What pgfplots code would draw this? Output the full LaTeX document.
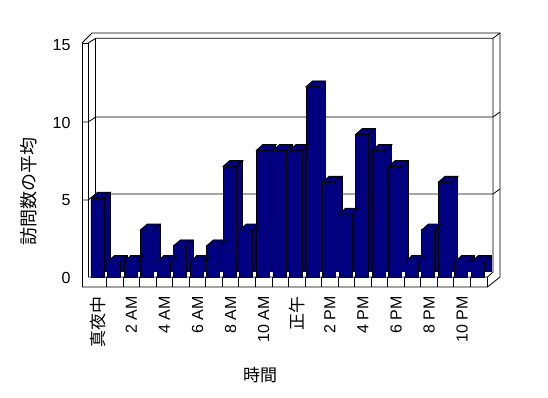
\documentclass[border=0pt]{standalone}
\usepackage{pgfplots}
\pgfplotsset{compat=1.18}
\usepackage{pgfplotstable}
\usepackage{fontspec}
\setmainfont{Liberation Sans}
\newfontfamily\cjk{Noto Sans CJK JP}
\definecolor{navy}{HTML}{000080}
\pgfdeclareplotmark{topface}{%
  \pgfpathmoveto{\pgfqpoint{-7.3pt}{0pt}}%
  \pgfpathlineto{\pgfqpoint{5.7pt}{0pt}}%
  \pgfpathlineto{\pgfqpoint{12.2pt}{5.7pt}}%
  \pgfpathlineto{\pgfqpoint{-0.8pt}{5.7pt}}%
  \pgfpathclose
  \pgfusepathqfillstroke}
\pgfplotstableread{
h v
0 5
1 1
2 1
3 3
4 1
5 2
6 1
7 2
8 7
9 3
10 8
11 8
12 8
13 12
14 6
15 4
16 9
17 8
18 7
19 1
20 3
21 6
22 1
23 1
}\visits
\begin{document}
\begin{tikzpicture}
\useasboundingbox (0,0) rectangle (548pt,398pt);
\begin{scope}[x=1pt,y=-1pt,shift={(0pt,398pt)},line width=0.8pt]
  % walls and floor
  \draw (82,287) -- (82,43) -- (88.3,43) -- (88.3,277);
  \draw (82,43) -- (92,33) -- (500,33) -- (500,277);
  \draw (88.3,43) -- (95.7,38.3) -- (493,38.3) -- (493,272);
  \draw (95.7,38.3) -- (95.7,277);
  \draw (493,38.3) -- (500,33);
  \draw (82,287) -- (487.5,287) -- (500,277);
  \draw (88.3,277) -- (487.5,277) -- (493,272);
  \draw (487.5,277) -- (487.5,287);
  \foreach \k in {1,...,23} {\draw ({90+16.54*\k},277) -- ({90+16.54*\k},287);}
  % gridlines
  \draw (82,200) -- (88.3,200) -- (95.7,194) -- (493,194) -- (500,189);
  \draw (82,122) -- (88.3,122) -- (95.7,117) -- (493,117) -- (500,112);
  % axis titles
  \node[font=\cjk\fontsize{17}{19}\selectfont] at (260,375) {時間};
  \node[font=\cjk\fontsize{18}{20}\selectfont, rotate=90] at (29,192) {訪問数の平均};
\end{scope}
\begin{axis}[
  at={(90pt,120.5pt)}, anchor=south west,
  scale only axis, width=397pt, height=238.5pt,
  xmin=-0.5, xmax=23.5, ymin=0, ymax=15,
  clip=false,
  axis line style={draw=none},
  tick style={draw=none},
  xtick={0,2,...,22},
  xticklabels={{\cjk\fontsize{17}{19}\selectfont 真夜中},2 AM,4 AM,6 AM,8 AM,10 AM,{\cjk\fontsize{17}{19}\selectfont 正午},2 PM,4 PM,6 PM,8 PM,10 PM},
  xticklabel style={rotate=90, anchor=east, font=\fontsize{16}{18}\selectfont},
  xticklabel shift=15pt,
  ytick={0,5,10,15},
  yticklabel style={font=\fontsize{16}{18}\selectfont, yshift={-0.4pt*\tick}},
  yticklabel shift=16pt,
  /pgf/number format/assume math mode=true,
]
\addplot[ybar, bar width=13pt, bar shift=-0.8pt, fill=navy, draw=black, line width=0.8pt, xshift=6.5pt, yshift=5.7pt] table[x=h,y=v]{\visits};
\addplot[ybar, bar width=13pt, bar shift=-0.8pt, fill=navy, draw=black, line width=0.8pt] table[x=h,y=v]{\visits};
\addplot[only marks, mark=topface, mark options={fill=navy, draw=black, line width=0.8pt}] table[x=h,y=v]{\visits};
\end{axis}
\end{tikzpicture}
\end{document}
